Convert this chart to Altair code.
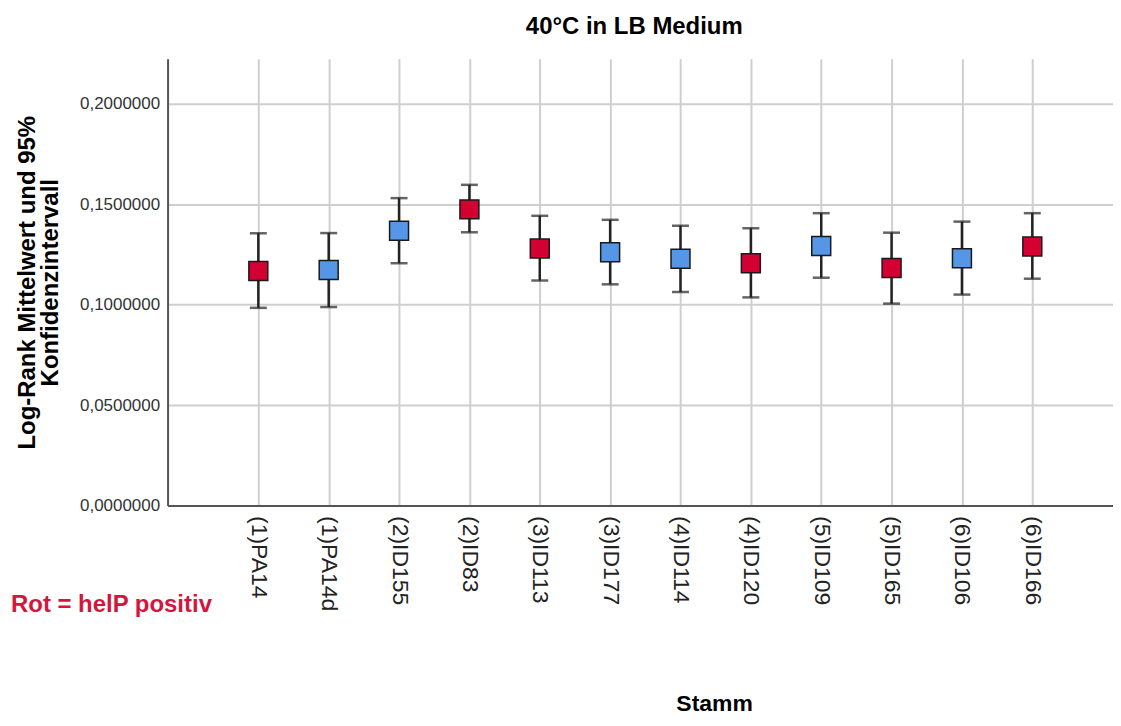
import altair as alt
import pandas as pd

strains = ["(1)PA14", "(1)PA14d", "(2)ID155", "(2)ID83", "(3)ID113", "(3)ID177",
           "(4)ID114", "(4)ID120", "(5)ID109", "(5)ID165", "(6)ID106", "(6)ID166"]
means = [0.1167, 0.1172, 0.1368, 0.1474, 0.1279, 0.1261,
         0.1228, 0.1206, 0.1292, 0.1182, 0.1231, 0.1289]
upper = [0.1355, 0.1356, 0.1530, 0.1596, 0.1442, 0.1422,
         0.1393, 0.1380, 0.1455, 0.1358, 0.1413, 0.1455]
lower = [0.0984, 0.0988, 0.1206, 0.1360, 0.1120, 0.1101,
         0.1063, 0.1036, 0.1134, 0.1005, 0.1050, 0.1129]
helP = ["positiv", "negativ", "negativ", "positiv", "positiv", "negativ",
        "negativ", "positiv", "negativ", "positiv", "negativ", "positiv"]
y_ticks = [0.0, 0.05, 0.10, 0.15, 0.20]
title_text = "40°C in LB Medium"
y_title = ["Log-Rank Mittelwert und 95%", "Konfidenzintervall"]
x_title = "Stamm"
note_text = "Rot = helP positiv"

idx = list(range(len(strains)))
df = pd.DataFrame({"i": idx, "Stamm": strains, "mean": means, "upper": upper,
                   "lower": lower, "helP": helP})

FONT = "Liberation Sans"
RED = "#D50032"
BLUE = "#5596E6"

names_js = "[" + ",".join("'" + s + "'" for s in strains) + "]"

x_scale = alt.Scale(domain=[-1.290, 12.147], nice=False, zero=False)
x_axis = alt.Axis(
    title=x_title, titleFont=FONT, titleFontSize=23, titleFontWeight="bold",
    titleColor="black", titleX=548, titleY=205, titleAlign="center",
    titleBaseline="alphabetic",
    values=idx, labelExpr=names_js + "[datum.value]",
    labelAngle=90, labelAlign="left", labelBaseline="middle",
    labelFont=FONT, labelFontSize=23, labelColor="#222", labelPadding=10,
    labelFlush=False, labelOverlap=False,
    ticks=False, grid=True, gridColor="#cfcfcf", gridWidth=2,
    domainColor="#555", domainWidth=2,
)

y_scale = alt.Scale(domain=[0, 0.2223], nice=False, zero=True)
y_axis = alt.Axis(
    title=y_title, titleFont=FONT, titleFontSize=24, titleFontWeight="bold",
    titleColor="black", titleX=-133, titleY=224, titleAlign="center",
    titleBaseline="alphabetic", titleLineHeight=23, titleAngle=270,
    values=y_ticks, labelExpr="replace(format(datum.value, '.7f'), '.', ',')",
    labelFont=FONT, labelFontSize=17, labelColor="#333", labelPadding=8,
    labelFlush=False,
    ticks=False, grid=True, gridColor="#cfcfcf", gridWidth=2,
    domainColor="#555", domainWidth=2,
)

base = alt.Chart(df)

bars = base.mark_rule(color="#222", strokeWidth=2.5).encode(
    x=alt.X("i:Q", scale=x_scale, axis=x_axis),
    y=alt.Y("lower:Q", scale=y_scale, axis=y_axis),
    y2="upper:Q",
)
cap_top = base.mark_tick(color="#222", thickness=2.5, size=17, orient="horizontal").encode(
    x=alt.X("i:Q"), y=alt.Y("upper:Q"))
cap_bot = base.mark_tick(color="#222", thickness=2.5, size=17, orient="horizontal").encode(
    x=alt.X("i:Q"), y=alt.Y("lower:Q"))
pts = base.mark_point(shape="square", filled=True, size=361, opacity=1,
                      stroke="#1a1a1a", strokeWidth=1.5).encode(
    x=alt.X("i:Q"),
    y=alt.Y("mean:Q"),
    fill=alt.Fill("helP:N", scale=alt.Scale(domain=["positiv", "negativ"],
                                            range=[RED, BLUE]), legend=None),
)
note = alt.Chart(pd.DataFrame({"t": [note_text]})).mark_text(
    align="left", baseline="alphabetic", font=FONT, fontSize=24,
    fontWeight="bold", color="#D6153E",
).encode(text="t:N", x=alt.value(-157), y=alt.value(555))

chart = alt.layer(bars, cap_top, cap_bot, pts, note).properties(
    width=948, height=448,
    title=alt.TitleParams(title_text, font=FONT, fontSize=24, fontWeight="bold",
                          color="black", anchor="middle", offset=1,
                          baseline="alphabetic", dx=-6),
    autosize=alt.AutoSizeParams(type="none"),
    padding={"left": 160, "top": 50, "right": 0, "bottom": 214},
).configure_view(stroke=None)

chart.save("out.html", embed_options={"renderer": "svg", "actions": False})
